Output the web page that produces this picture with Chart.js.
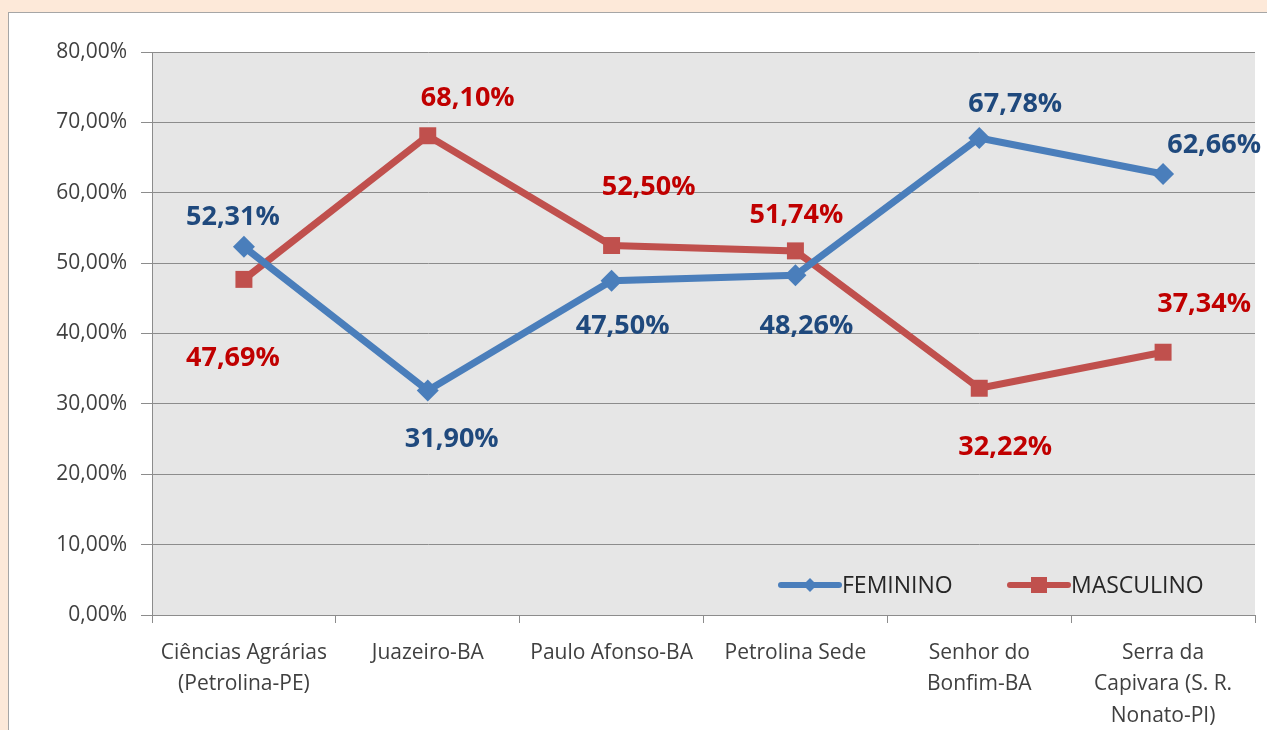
<!DOCTYPE html>
<html>
<head>
<meta charset="utf-8">
<script src="https://cdn.jsdelivr.net/npm/chart.js@4.4.1/dist/chart.umd.min.js"></script>
<style>
  html, body { margin: 0; padding: 0; }
  body { background: #fde9d9; width: 1267px; height: 730px; overflow: hidden; }
  #box { position: absolute; left: 8px; top: 12px; width: 1259px; height: 718px;
         background: #ffffff; border: 1px solid #a6a6a6; border-right: none; border-bottom: none; box-sizing: border-box; }
  #grafico { display: block; }
</style>
</head>
<body>
<div id="box"><canvas id="grafico" width="1258" height="717"></canvas></div>
<script>
// dados
const campi = [
  ['Ciências Agrárias', '(Petrolina-PE)'],
  'Juazeiro-BA',
  'Paulo Afonso-BA',
  'Petrolina Sede',
  ['Senhor do', 'Bonfim-BA'],
  ['Serra da', 'Capivara (S. R.', 'Nonato-PI)']
];
const feminino = [52.31, 31.90, 47.50, 48.26, 67.78, 62.66];
const masculino = [47.69, 68.10, 52.50, 51.74, 32.22, 37.34];
const yTicks = [0, 10, 20, 30, 40, 50, 60, 70, 80];

const AZUL = '#4a7ebb';
const VERMELHO = '#c0504d';
const FONTE = '"Open Sans", "Liberation Sans", sans-serif';

function pct(v) {
  return v.toFixed(2).replace('.', ',') + '%';
}

// fundo cinza da área de plotagem
const fundoPlot = {
  id: 'fundoPlot',
  beforeDraw(chart) {
    const a = chart.chartArea, ctx = chart.ctx;
    ctx.save();
    ctx.fillStyle = '#e6e6e6';
    ctx.fillRect(a.left, a.top, a.right - a.left, a.bottom - a.top);
    ctx.restore();
  }
};

// rótulos de dados (deslocamento em px para cada ponto)
const rotulos = {
  id: 'rotulos',
  afterDatasetsDraw(chart, args, opts) {
    const ctx = chart.ctx;
    ctx.save();
    ctx.font = 'bold 27px ' + FONTE;
    ctx.textAlign = 'center';
    ctx.textBaseline = 'middle';
    chart.data.datasets.forEach(function(ds, i) {
      const meta = chart.getDatasetMeta(i);
      ctx.fillStyle = opts.cores[i];
      meta.data.forEach(function(pt, j) {
        const d = opts.desloc[i][j];
        ctx.fillText(pct(ds.data[j]), pt.x + d[0], pt.y + d[1]);
      });
    });
    ctx.restore();
  }
};

// legenda dentro do gráfico, canto inferior direito
const legenda = {
  id: 'legenda',
  afterDraw(chart) {
    const ctx = chart.ctx;
    const y = chart.chartArea.bottom - 30;
    const itens = [
      { x: 772, cor: AZUL, tipo: 'diamante', texto: chart.data.datasets[0].label },
      { x: 1001, cor: VERMELHO, tipo: 'quadrado', texto: chart.data.datasets[1].label }
    ];
    ctx.save();
    itens.forEach(function(it) {
      ctx.strokeStyle = it.cor;
      ctx.lineWidth = 6;
      ctx.lineCap = 'round';
      ctx.beginPath();
      ctx.moveTo(it.x, y);
      ctx.lineTo(it.x + 58, y);
      ctx.stroke();
      ctx.fillStyle = it.cor;
      const cx = it.x + 29;
      if (it.tipo === 'diamante') {
        ctx.beginPath();
        ctx.moveTo(cx, y - 7);
        ctx.lineTo(cx + 7, y);
        ctx.lineTo(cx, y + 7);
        ctx.lineTo(cx - 7, y);
        ctx.closePath();
        ctx.fill();
      } else {
        ctx.fillRect(cx - 8, y - 8, 16, 16);
      }
      ctx.fillStyle = '#262626';
      ctx.font = '23px ' + FONTE;
      ctx.textAlign = 'left';
      ctx.textBaseline = 'middle';
      ctx.fillText(it.texto, it.x + 61, y + 1);
    });
    ctx.restore();
  }
};

const ctx = document.getElementById('grafico').getContext('2d');
const grafico = new Chart(ctx, {
  type: 'line',
  data: {
    labels: campi,
    datasets: [{
      label: 'FEMININO',
      data: feminino,
      borderColor: AZUL,
      backgroundColor: AZUL,
      borderWidth: 7,
      pointStyle: 'rectRot',
      pointRadius: 11,
      pointBorderWidth: 0,
      tension: 0
    }, {
      label: 'MASCULINO',
      data: masculino,
      borderColor: VERMELHO,
      backgroundColor: VERMELHO,
      borderWidth: 7,
      pointStyle: 'rect',
      pointRadius: 12,
      pointBorderWidth: 0,
      tension: 0
    }]
  },
  options: {
    responsive: false,
    animation: false,
    layout: { padding: { top: 39, right: 10, left: 0, bottom: 0 } },
    plugins: {
      legend: { display: false },
      tooltip: { enabled: false },
      rotulos: {
        cores: ['#1f497d', '#c00000'],
        desloc: [
          [[-11, -30], [24, 49], [11, 46], [11, 51], [36, -34], [51, -29]],
          [[-11, 79], [40, -37], [37, -58], [1, -36], [26, 59], [41, -48]]
        ]
      }
    },
    scales: {
      x: {
        offset: true,
        grid: { offset: true, drawOnChartArea: false, color: '#8c8c8c', tickLength: 8 },
        border: { color: '#8c8c8c' },
        ticks: {
          color: '#404040',
          font: { family: FONTE, size: 21, lineHeight: 1.5 },
          padding: 14,
          maxRotation: 0,
          autoSkip: false
        },
        afterFit(scale) { scale.height = 115; }
      },
      y: {
        min: 0,
        max: 80,
        afterBuildTicks(scale) { scale.ticks = yTicks.map(v => ({ value: v })); },
        grid: { color: '#8c8c8c', tickLength: 11 },
        border: { color: '#8c8c8c' },
        ticks: {
          color: '#404040',
          font: { family: FONTE, size: 21 },
          padding: 14,
          callback: v => pct(v)
        },
        afterFit(scale) { scale.width = 143; }
      }
    }
  },
  plugins: [fundoPlot, rotulos, legenda]
});
</script>
</body>
</html>
